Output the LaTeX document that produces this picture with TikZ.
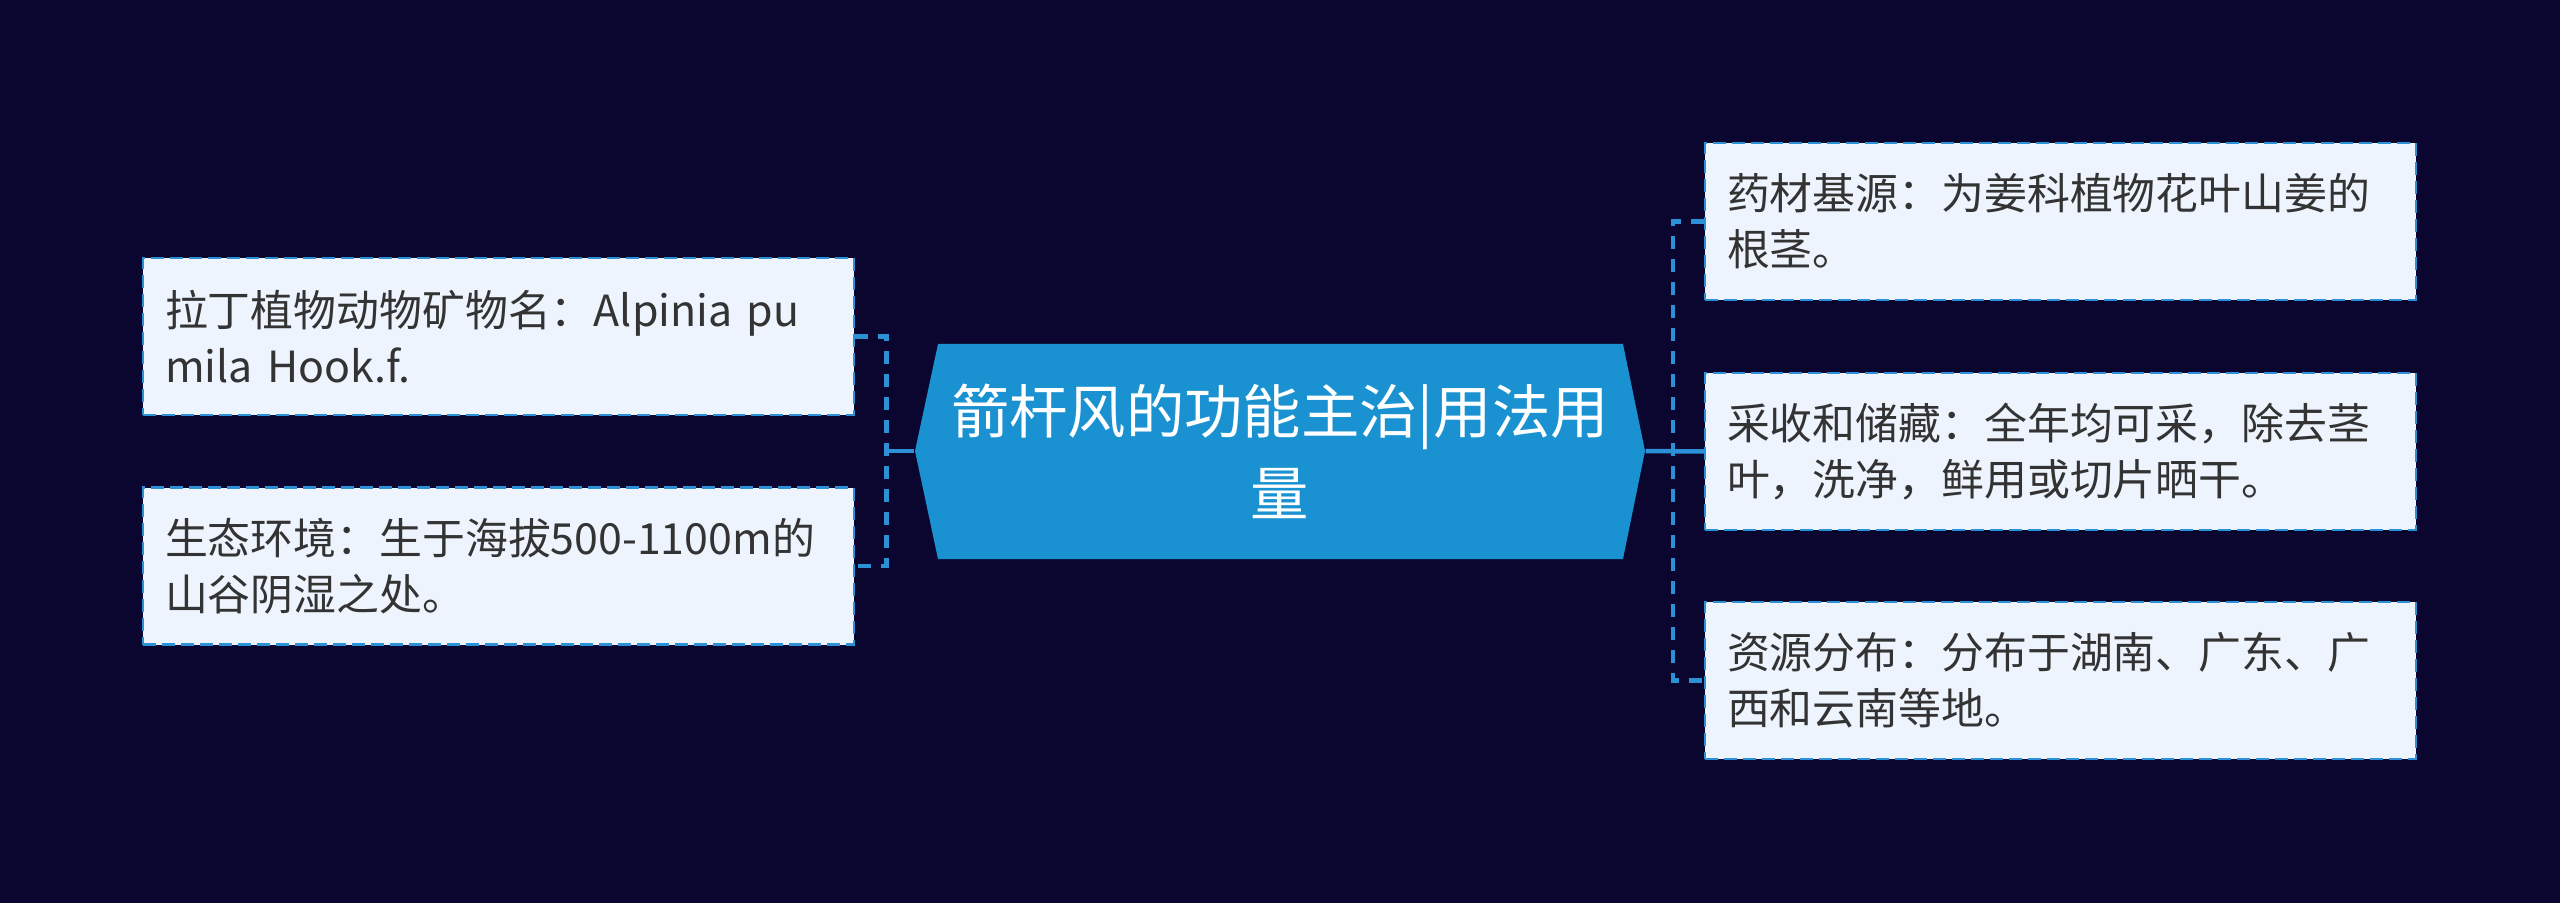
\documentclass[tikz,border=0pt]{standalone}
\usepackage{fontspec}
\setmainfont{Noto Sans CJK SC}
\definecolor{bgnavy}{HTML}{0A0630}
\definecolor{rootblue}{HTML}{1A92D2}
\definecolor{leaffill}{HTML}{EEF4FE}
\definecolor{linkblue}{HTML}{2B90D6}
\definecolor{leaftext}{HTML}{333333}
\begin{document}
\begin{tikzpicture}[x=0.1mm,y=-0.1mm,
  leafbox/.style={draw=linkblue, line width=0.25mm, dash pattern=on 1.3mm off 0.6mm, fill=leaffill,
    minimum width=71.1mm, minimum height=15.7mm, text width=66.7mm, inner xsep=2.2mm,
    align=left, text=leaftext, font=\fontsize{12.2pt}{15.9pt}\selectfont},
  rootlabel/.style={minimum width=73mm, minimum height=21.5mm, inner sep=0pt, align=center,
    text=white, font=\fontsize{16.6pt}{23.3pt}\selectfont},
  linkline/.style={draw=linkblue, line width=0.45mm, dash pattern=on 1.3mm off 1.0mm}]
\fill[bgnavy] (0,0) rectangle (2560,903);
% central hexagon
\fill[rootblue] (915,451) -- (938,344) -- (1623,344) -- (1645,451) -- (1623,559) -- (938,559) -- cycle;
\node[rootlabel] (root) at (1280,451) {箭杆风的功能主治|用法用\\量};
% left branch
\node[leafbox] (latin) at (498.5,336.5) {拉丁植物动物矿物名：Alpinia pu\\mila Hook.f.};
\node[leafbox] (habitat) at (498.5,566) {生态环境：生于海拔500-1100m的\\山谷阴湿之处。};
% right branch
\node[leafbox] (source) at (2060.5,221.5) {药材基源：为姜科植物花叶山姜的\\根茎。};
\node[leafbox] (harvest) at (2060.5,451.5) {采收和储藏：全年均可采，除去茎\\叶，洗净，鲜用或切片晒干。};
\node[leafbox] (range) at (2060.5,680.5) {资源分布：分布于湖南、广东、广\\西和云南等地。};
\draw[linkline] (latin.east) -- ++(31,0) |- (habitat.east);
\draw[linkblue, line width=0.45mm] (root.west) -- (885,451);
\draw[linkline] (source.west) -- ++(-31,0) |- (range.west);
\draw[linkblue, line width=0.45mm] (root.east) -- (harvest.west);
\end{tikzpicture}
\end{document}
